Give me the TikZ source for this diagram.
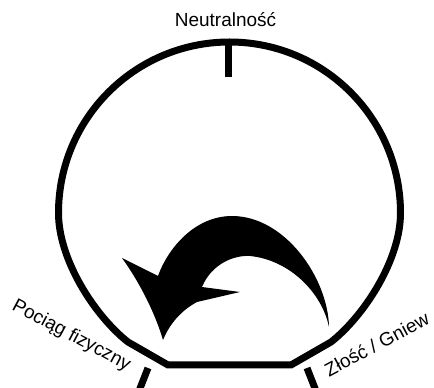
\documentclass[tikz,border=0pt]{standalone}
\usepackage{fontspec}
\setmainfont{Liberation Sans}
\definecolor{DialClr}{rgb}{0,0,0}

\begin{document}
\begin{tikzpicture}[x=1pt,y=1pt,
  dial/.style={line width=7pt,color=DialClr},
  dialtick/.style={line width=7pt,color=DialClr},
  lbl/.style={font=\fontsize{19}{22}\selectfont,anchor=base,inner sep=0pt}]
\useasboundingbox (0,0) rectangle (434,388);

% dial
\coordinate (L) at (58.5,175);
\draw[dial] (L) arc[start angle=180,end angle=0,radius=171]
  .. controls (400.5,128) and (364,72) .. (331,46) -- (291,23) -- (168,23) -- (128,46)
  .. controls (95,72) and (58.5,128) .. cycle;

\coordinate (N1) at (228,343);
\coordinate (N2) at (228,311);
\coordinate (P1) at (148,20);
\coordinate (P2) at (139,-3);
\coordinate (Z1) at (307,20);
\coordinate (Z2) at (316,-3);
\draw[dialtick] (N1) -- (N2);
\draw[dialtick] (P1) -- (P2);
\draw[dialtick] (Z1) -- (Z2);

% arrow
\fill[DialClr] (329,61) .. controls (328,110) and (285,172) .. (232,172)
  .. controls (195,172) and (168,140) .. (158,112) -- (122,130)
  .. controls (140,105) and (155,75) .. (163,48)
  .. controls (170,65) and (182,78) .. (197,86) -- (240,96) -- (202,101)
  .. controls (212,125) and (235,133) .. (250,132)
  .. controls (290,128) and (322,95) .. cycle;

\node[lbl] (neutral) at (225.5,361) {Neutralność};
\node[lbl,rotate=-28] (pull) at (69,48) {Pociąg fizyczny};
\node[lbl,rotate=28] (anger) at (380,38) {Złość / Gniew};

\end{tikzpicture}
\end{document}
